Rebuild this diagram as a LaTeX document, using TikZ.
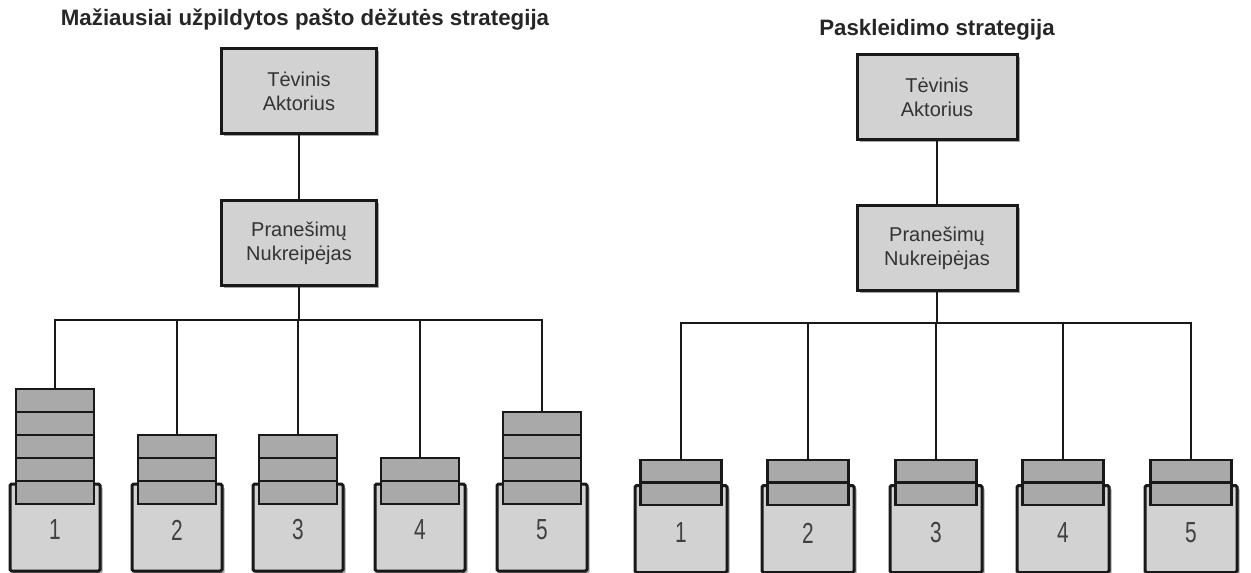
\documentclass[tikz,border=0pt]{standalone}
\usepackage{fontspec}
\setmainfont{Liberation Sans}
\usetikzlibrary{shadows}
\definecolor{boxgray}{HTML}{D2D2D2}
\definecolor{msggray}{HTML}{A9A9A9}
\tikzset{
  softshadow/.style={drop shadow={shadow xshift=2.5pt,shadow yshift=-2.5pt,opacity=0.35,fill=black}},
  actorbox/.style={draw=black!90,line width=3pt,fill=boxgray,softshadow,
    minimum width=155pt,minimum height=85pt,align=center,font=\fontsize{20}{24}\selectfont,
    text=black!80,inner sep=0pt},
  mailbox/.style={draw=black!90,line width=3pt,fill=boxgray,softshadow,
    rounded corners=1.5pt,minimum height=87pt,inner sep=0pt},
  msgbox/.style={draw=black!90,line width=2.8pt,fill=msggray,minimum height=23pt,inner sep=0pt},
  num/.style={font=\fontsize{29}{29}\selectfont,text=black!75,inner sep=0pt},
  title/.style={font=\bfseries\fontsize{22.3}{26}\selectfont,text=black!85,inner sep=0pt},
  wire/.style={draw=black!90,line width=2.8pt},
}
\newcommand{\narrow}[1]{\scalebox{0.72}[1]{#1}}
\begin{document}
\begin{tikzpicture}[x=1pt,y=-1pt]
\useasboundingbox (0,0) rectangle (1251,573);

% ---------- least filled mailbox strategy ----------
\node[title] (titleL) at (305,20) {Mažiausiai užpildytos pašto dėžutės strategija};
\node[actorbox] (parentL) at (299,91) {Tėvinis\\Aktorius};
\node[actorbox] (routerL) at (299,243) {Pranešimų\\Nukreipėjas};
\coordinate (busL) at (299,320);

\foreach \i/\cx/\n in {1/55/5,2/177/3,3/298/3,4/420/2,5/542/4}{
  \node[mailbox,minimum width=90pt] (boxL\i) at (\cx,527.5) {};
  \foreach \k in {1,...,\n}{
    \node[msgbox,minimum width=78pt] (mL\i-\k) at (\cx,{504-11.5-23*(\k-1)}) {};
  }
  \node[num] (numL\i) at (\cx,530) {\narrow{\i}};
  \draw[wire] (mL\i-\n.north) |- (busL);
}
\draw[wire] (parentL) -- (routerL);
\draw[wire] (routerL.south) -- (busL);

% ---------- spreading strategy ----------
\node[title] (titleR) at (937,30) {Paskleidimo strategija};
\node[actorbox,minimum width=160pt] (parentR) at (937,97) {Tėvinis\\Aktorius};
\node[actorbox,minimum width=160pt] (routerR) at (937,248) {Pranešimų\\Nukreipėjas};
\coordinate (busR) at (937,323);

\foreach \i/\cx in {1/681,2/808,3/936,4/1063,5/1191}{
  \node[mailbox,minimum width=92pt] (boxR\i) at (\cx,529) {};
  \foreach \k in {1,2}{
    \node[msgbox,minimum width=81pt,minimum height=22.5pt] (mR\i-\k) at (\cx,{505-11.25-22.5*(\k-1)}) {};
  }
  \node[num] (numR\i) at (\cx,533) {\narrow{\i}};
  \draw[wire] (mR\i-2.north) |- (busR);
}
\draw[wire] (parentR) -- (routerR);
\draw[wire] (routerR.south) -- (busR);
\end{tikzpicture}
\end{document}
